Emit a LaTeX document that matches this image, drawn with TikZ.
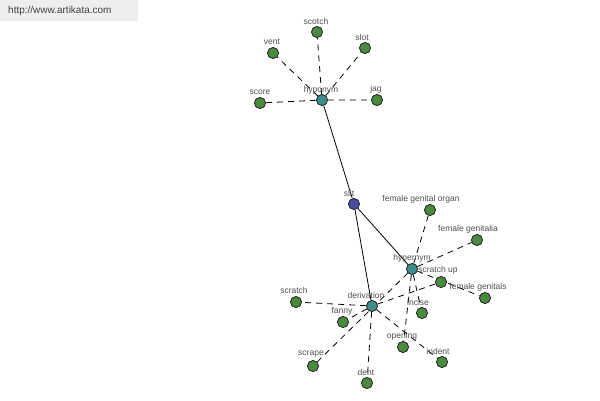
\documentclass[tikz,border=0pt]{standalone}
\usepackage{fontspec}
\setmainfont{Liberation Sans}
\begin{document}
\begin{tikzpicture}[x=1pt,y=-1pt,
  dot/.style={circle,draw=black!85,line width=0.7pt,minimum size=11pt,inner sep=0pt},
  leaf/.style={dot,fill=leafgreen},
  hub/.style={dot,fill=hubteal},
  root/.style={dot,fill=rootblue},
  lbl/.style={font=\fontsize{8.5}{10}\selectfont,text=labelgray,inner sep=0pt},
  dashlink/.style={draw=black,line width=0.8pt,dash pattern=on 6pt off 5pt},
  solidlink/.style={draw=black,line width=0.8pt}]
\definecolor{leafgreen}{HTML}{4A8A3E}
\definecolor{hubteal}{HTML}{3E8C8C}
\definecolor{rootblue}{HTML}{4A4AA0}
\definecolor{labelgray}{HTML}{505050}
\definecolor{wmgray}{HTML}{EEEEEE}
\useasboundingbox (0,0) rectangle (600,400);
\fill[white] (0,0) rectangle (600,400);
% watermark
\node[fill=wmgray,minimum width=138pt,minimum height=21pt,anchor=north west,inner sep=0pt] (wm) at (0,0) {};
\node[font=\fontsize{10}{12}\selectfont,text=black!75,anchor=west,inner sep=0pt] (wmt) at (8,11) {http://www.artikata.com};
% nodes
\node[hub] (hypo) at (322,100) {};
\node[root] (slit) at (354,204) {};
\node[hub] (hyper) at (412,269) {};
\node[hub] (deriv) at (372,306) {};
\node[leaf] (vent) at (273,53) {};
\node[leaf] (scotch) at (317,32) {};
\node[leaf] (slot) at (365,48) {};
\node[leaf] (score) at (260,103) {};
\node[leaf] (jag) at (377,100) {};
\node[leaf] (fgo) at (430,210) {};
\node[leaf] (fga) at (477,240) {};
\node[leaf] (sup) at (441,282) {};
\node[leaf] (fgs) at (485,298) {};
\node[leaf] (incise) at (422,313) {};
\node[leaf] (opening) at (403,347) {};
\node[leaf] (indent) at (442,362) {};
\node[leaf] (scratch) at (296,302) {};
\node[leaf] (fanny) at (343,322) {};
\node[leaf] (scrape) at (313,366) {};
\node[leaf] (dent) at (367,383) {};
% edges
\path[dashlink] (hypo) -- (vent) (hypo) -- (scotch) (hypo) -- (slot) (hypo) -- (score) (hypo) -- (jag);
\path[solidlink] (hypo) -- (slit) (slit) -- (hyper) (slit) -- (deriv);
\path[dashlink] (hyper) -- (fgo) (hyper) -- (fga) (hyper) -- (fgs) (hyper) -- (incise) (hyper) -- (opening) (hyper) -- (scrape);
\path[dashlink] (deriv) -- (scratch) (deriv) -- (fanny) (deriv) -- (dent) (deriv) -- (indent) (deriv) -- (sup);
% redraw nodes on top
\foreach \n/\s in {hypo/hub,slit/root,hyper/hub,deriv/hub,vent/leaf,scotch/leaf,slot/leaf,score/leaf,jag/leaf,fgo/leaf,fga/leaf,sup/leaf,fgs/leaf,incise/leaf,opening/leaf,indent/leaf,scratch/leaf,fanny/leaf,scrape/leaf,dent/leaf}
  \node[\s] at (\n) {};
% labels
\node[lbl] (l1) at (321,90) {hyponym};
\node[lbl] (l2) at (349,193) {slit};
\node[lbl] (l3) at (412,258) {hypernym};
\node[lbl] (l4) at (366,295) {derivation};
\node[lbl] (l5) at (272,42) {vent};
\node[lbl] (l6) at (316,21) {scotch};
\node[lbl] (l7) at (362,37) {slot};
\node[lbl] (l8) at (260,92) {score};
\node[lbl] (l9) at (376,89) {jag};
\node[lbl] (l10) at (421,199) {female genital organ};
\node[lbl] (l11) at (468,229) {female genitalia};
\node[lbl] (l12) at (438,270) {scratch up};
\node[lbl] (l13) at (478,287) {female genitals};
\node[lbl] (l14) at (418,302) {incise};
\node[lbl] (l15) at (402,336) {opening};
\node[lbl] (l16) at (438,351) {indent};
\node[lbl] (l17) at (294,290) {scratch};
\node[lbl] (l18) at (342,311) {fanny};
\node[lbl] (l19) at (311,354) {scrape};
\node[lbl] (l20) at (366,372) {dent};
\end{tikzpicture}
\end{document}
